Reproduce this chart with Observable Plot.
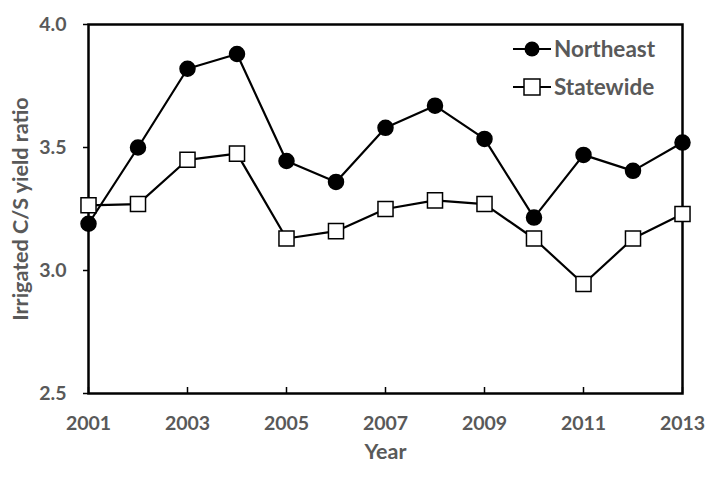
<!DOCTYPE html>
<html><head><meta charset="utf-8">
<script src="https://cdn.jsdelivr.net/npm/d3@7"></script>
<script src="https://cdn.jsdelivr.net/npm/@observablehq/plot@0.6"></script>
<style>
body{margin:0;background:#fff;}
#wrap{position:relative;width:720px;height:483px;font-family:Lato,"Open Sans",sans-serif;}
#legend{position:absolute;left:513px;top:30px;font-weight:bold;font-size:22.5px;color:#595959;line-height:38px;}
#legend div{display:flex;align-items:center;}
#legend svg{margin-right:3px;}
</style></head>
<body><div id="wrap"><div id="legend"></div></div>
<script>
const years = [2001,2002,2003,2004,2005,2006,2007,2008,2009,2010,2011,2012,2013];
const northeast = [3.19,3.50,3.82,3.88,3.445,3.36,3.58,3.67,3.535,3.215,3.47,3.405,3.52];
const statewide = [3.265,3.27,3.45,3.475,3.13,3.16,3.25,3.285,3.27,3.13,2.945,3.13,3.23];
const xTicks = [2001,2003,2005,2007,2009,2011,2013];
const yTicks = [2.5,3.0,3.5,4.0];
const seriesNames = ["Northeast","Statewide"];

const ne = years.map((y,i)=>({year:y, value:northeast[i]}));
const sw = years.map((y,i)=>({year:y, value:statewide[i]}));
const textColor = "#595959";

const chart = Plot.plot({
  width:720, height:483,
  marginLeft:88, marginRight:38, marginTop:24, marginBottom:90,
  style:{fontFamily:"Lato, 'Open Sans', sans-serif", fontWeight:"bold", background:"#fff"},
  x:{domain:[2001,2013]},
  y:{domain:[2.5,4.0]},
  marks:[
    Plot.axisX({ticks:xTicks, tickFormat:d=>String(d), tickSize:-6, tickPadding:29, fontSize:19.5, color:textColor, stroke:"#000", strokeWidth:1.5, label:"Year", labelAnchor:"center", labelOffset:65, labelArrow:"none"}),
    Plot.axisY({ticks:yTicks, tickFormat:d=>d.toFixed(1), tickSize:5, tickPadding:17, fontSize:19.5, color:textColor, stroke:"#000", strokeWidth:1.5, label:"Irrigated C/S yield ratio", labelAnchor:"center", labelOffset:76, labelArrow:"none"}),
    Plot.frame({stroke:"#000", strokeWidth:2.5}),
    Plot.line(ne, {x:"year", y:"value", stroke:"#000", strokeWidth:2.2}),
    Plot.line(sw, {x:"year", y:"value", stroke:"#000", strokeWidth:2.2}),
    Plot.dot(ne, {x:"year", y:"value", r:7.5, fill:"#000", stroke:"#000"}),
    Plot.dot(sw, {x:"year", y:"value", symbol:"square", r:8.5, fill:"#fff", stroke:"#000", strokeWidth:1.5})
  ]
});
chart.querySelectorAll("g[aria-label='x-axis label'] text, g[aria-label='y-axis label'] text").forEach(t=>{t.setAttribute("font-size","21.5");});
document.getElementById("wrap").prepend(chart);

const leg = document.getElementById("legend");
seriesNames.forEach((name,i)=>{
  const row = document.createElement("div");
  const marker = i===0
    ? '<circle cx="19" cy="10" r="7.5" fill="#000"/>'
    : '<rect x="11" y="2" width="16" height="16" fill="#fff" stroke="#000" stroke-width="1.5"/>';
  row.innerHTML = `<svg width="38" height="20"><line x1="0" y1="10" x2="38" y2="10" stroke="#000" stroke-width="2"/>${marker}</svg><span>${name}</span>`;
  leg.appendChild(row);
});
</script></body></html>
